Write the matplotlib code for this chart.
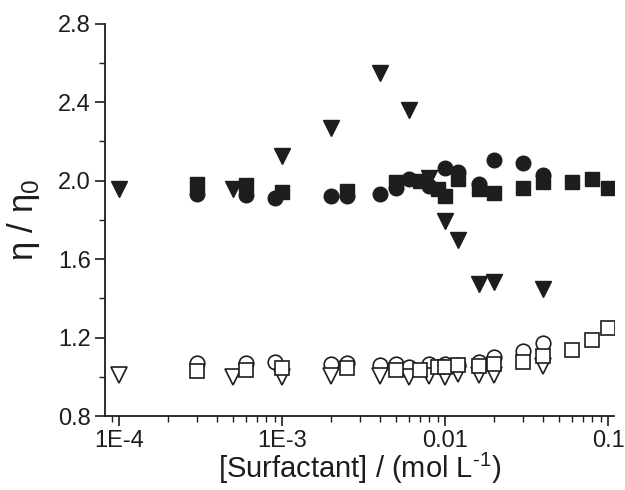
import matplotlib
matplotlib.use('Agg')
import matplotlib.pyplot as plt
from matplotlib.ticker import LogLocator, FixedLocator, FuncFormatter, MultipleLocator

# figure style
plt.rcParams['font.family'] = 'Liberation Sans'

# data
conc_tri = [1e-4, 5e-4, 1e-3, 2e-3, 4e-3, 6e-3, 8e-3, 0.01, 0.012, 0.016, 0.02, 0.04]
tri_filled = [1.955, 1.955, 2.125, 2.268, 2.549, 2.357, 2.014, 1.794, 1.697, 1.472, 1.483, 1.446]
tri_open = [1.009, 0.997, 0.997, 1.005, 1.005, 0.997, 1.005, 0.997, 1.014, 1.009, 1.009, 1.053]

conc_sq = [3e-4, 6e-4, 1e-3, 2.5e-3, 5e-3, 7e-3, 9e-3, 0.01, 0.012, 0.016, 0.02, 0.03, 0.04, 0.06, 0.08, 0.1]
sq_filled = [1.98, 1.975, 1.942, 1.945, 1.99, 1.997, 1.959, 1.921, 2.006, 1.955, 1.935, 1.964, 1.99, 1.99, 2.006, 1.964]
sq_open = [1.031, 1.034, 1.043, 1.043, 1.036, 1.036, 1.048, 1.048, 1.06, 1.053, 1.065, 1.073, 1.107, 1.137, 1.187, 1.246]

conc_ci = [3e-4, 6e-4, 9e-4, 2e-3, 2.5e-3, 4e-3, 5e-3, 6e-3, 8e-3, 0.01, 0.012, 0.016, 0.02, 0.03, 0.04]
ci_filled = [1.932, 1.925, 1.91, 1.92, 1.92, 1.932, 1.96, 2.01, 1.97, 2.066, 2.043, 1.98, 2.105, 2.088, 2.03]
ci_open = [1.07, 1.07, 1.073, 1.065, 1.07, 1.06, 1.065, 1.048, 1.065, 1.065, 1.062, 1.076, 1.099, 1.132, 1.171]

xticks = [1e-4, 1e-3, 1e-2, 1e-1]
xticklabels = ['1E-4', '1E-3', '0.01', '0.1']

ink = '#1e1c1d'

fig, ax = plt.subplots(figsize=(6.25, 4.9), dpi=100)
fig.subplots_adjust(left=0.168, right=0.982, top=0.952, bottom=0.151)

# open symbols
ax.plot(conc_ci, ci_open, 'o', ms=10.5, mfc='white', mec=ink, mew=1.2, ls='none')
ax.plot(conc_tri, tri_open, 'v', ms=11, mfc='white', mec=ink, mew=1.2, ls='none')
ax.plot(conc_sq, sq_open, 's', ms=9.5, mfc='white', mec=ink, mew=1.2, ls='none')

# filled symbols
ax.plot(conc_ci, ci_filled, 'o', ms=10.5, mfc=ink, mec=ink, ls='none')
ax.plot(conc_sq, sq_filled, 's', ms=9.5, mfc=ink, mec=ink, ls='none')
ax.plot(conc_tri, tri_filled, 'v', ms=11.5, mfc=ink, mec=ink, ls='none')

ax.set_xscale('log')
ax.set_xlim(8.2e-5, 0.108)
ax.set_ylim(0.8, 2.8)

ax.xaxis.set_major_locator(FixedLocator(xticks))
ax.xaxis.set_major_formatter(FuncFormatter(lambda v, p: xticklabels[xticks.index(v)] if v in xticks else ''))
ax.xaxis.set_minor_locator(LogLocator(base=10, subs=range(2, 10)))
ax.xaxis.set_minor_formatter(FuncFormatter(lambda v, p: ''))

ax.yaxis.set_major_locator(MultipleLocator(0.4))
ax.yaxis.set_minor_locator(MultipleLocator(0.2))
ax.yaxis.set_major_formatter(FuncFormatter(lambda v, p: f'{v:.1f}'))

ax.tick_params(which='major', direction='out', length=7, width=1.2, labelsize=17, colors=ink, pad=3)
ax.tick_params(which='minor', direction='out', length=4, width=1.0, colors=ink)

for spine in ('top', 'right'):
    ax.spines[spine].set_visible(False)
for spine in ('left', 'bottom'):
    ax.spines[spine].set_linewidth(1.3)
    ax.spines[spine].set_color(ink)

ax.set_xlabel('[Surfactant] / (mol L$^{\\mathregular{\u2010}\\mathregular{1}}$)', fontsize=21, color=ink, labelpad=-1)
ax.set_ylabel('η / η$_\\mathregular{0}$', fontsize=25, color=ink, labelpad=12)

fig.savefig('out.png', dpi=100)
